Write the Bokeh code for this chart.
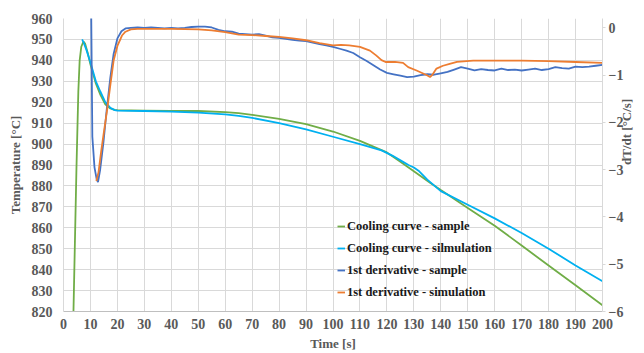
import math
from bokeh.plotting import figure
from bokeh.models import Range1d, LinearAxis, FixedTicker, Legend, LegendItem
from bokeh.embed import file_html
from bokeh.resources import INLINE

# Cooling curve - sample (time [s], temperature [°C])
cs_t = [3.7, 4.8, 5.5, 6.0, 6.6, 7.4, 8.0, 9.0, 10, 12, 13.7, 15.5, 17.4, 19, 20, 30, 40, 50, 60, 65, 70, 80, 90, 100, 110, 120, 125, 130, 136, 140, 150, 160, 170, 180, 190, 200]
cs_T = [820, 888, 925, 940, 946.5, 949, 948, 943.5, 938, 929, 923.5, 919, 917, 916.3, 916.2, 916, 915.8, 915.8, 915.3, 914.8, 914, 912, 909.5, 906, 901.5, 896, 891.5, 887, 881.5, 878, 869.5, 861, 851.5, 842, 832.5, 823]

# Cooling curve - simulation
cm_t = [6.9, 7.5, 8.5, 10, 12, 13.7, 15.5, 17.4, 19, 20, 30, 40, 50, 60, 65, 70, 80, 90, 100, 110, 118, 122, 126, 128, 130, 132, 135, 140, 150, 160, 170, 180, 190, 200]
cm_T = [950, 948.5, 945, 939, 930, 925, 920, 917.3, 916.2, 916, 915.8, 915.5, 915, 914.2, 913.5, 912.5, 910, 907, 903.5, 900, 897, 894.5, 891.5, 890, 888.8, 887, 883, 877.5, 871, 864.5, 857.5, 850, 842, 834.5]

# 1st derivative - sample (dT/dt [°C/s])
ds_t = [10.0, 10.3, 10.7, 11.5, 12.3, 12.8, 13.6, 14.8, 16.0, 17.4, 18.6, 20.0, 21.5, 23.0, 25, 27.5, 30, 32.5, 35, 37.5, 40, 42.5, 45, 47.5, 50, 52.5, 55, 57.5, 60, 62.5, 65, 67.5, 70, 72.5, 75, 77.5, 80, 82.5, 85, 87.5, 90, 92.5, 95, 97.5, 100, 102.5, 105, 107.5, 110, 112.5, 115, 117.5, 120, 122.5, 125, 127.5, 130, 132.5, 135, 137.5, 140, 142.5, 145, 147.5, 150, 152.5, 155, 157.5, 160, 162.5, 165, 167.5, 170, 172.5, 175, 177.5, 180, 182.5, 185, 187.5, 190, 192.5, 195, 197.5, 200]
ds_v = [3.0, 0.2, -2.3, -2.95, -3.2, -3.26, -3.0, -2.43, -1.75, -1.04, -0.55, -0.22, -0.07, -0.01, 0.0, 0.01, 0.0, 0.01, 0.0, -0.01, 0.0, -0.01, 0.0, 0.02, 0.03, 0.03, 0.01, -0.04, -0.07, -0.08, -0.12, -0.13, -0.14, -0.13, -0.16, -0.2, -0.21, -0.23, -0.25, -0.27, -0.28, -0.31, -0.34, -0.37, -0.4, -0.44, -0.48, -0.53, -0.62, -0.7, -0.79, -0.88, -0.95, -0.98, -1.01, -1.04, -1.03, -1.0, -0.98, -0.99, -0.96, -0.93, -0.88, -0.83, -0.86, -0.9, -0.87, -0.89, -0.9, -0.86, -0.89, -0.88, -0.9, -0.88, -0.86, -0.89, -0.87, -0.83, -0.85, -0.86, -0.82, -0.83, -0.82, -0.8, -0.78]

# 1st derivative - simulation
dm_t = [12.2, 13.0, 14.0, 15.0, 16.2, 17.4, 18.6, 20.0, 21.7, 23.0, 25.0, 27.5, 30, 40, 50, 55, 60, 65, 70, 75, 80, 85, 90, 95, 100, 103, 106, 110, 113.7, 116, 118, 119.5, 123, 126, 127.9, 131, 134.9, 136, 137, 138.4, 140.8, 143.3, 146, 152, 160, 170, 180, 190, 200]
dm_v = [-3.24, -3.05, -2.6, -2.2, -1.73, -1.2, -0.69, -0.38, -0.16, -0.08, -0.03, -0.02, -0.02, -0.02, -0.03, -0.05, -0.09, -0.14, -0.15, -0.17, -0.19, -0.22, -0.26, -0.32, -0.37, -0.36, -0.37, -0.4, -0.48, -0.58, -0.68, -0.72, -0.72, -0.74, -0.83, -0.9, -1.0, -1.04, -0.98, -0.86, -0.8, -0.76, -0.72, -0.69, -0.69, -0.69, -0.7, -0.72, -0.74]

x_ticks = list(range(0, 201, 10))
y_ticks = list(range(820, 961, 10))
y2_ticks = [-6, -5, -4, -3, -2, -1, 0]

FONT = "Liberation Serif"
GRAY = "#595959"
GRID = "#d9d9d9"

p = figure(width=644, height=353, output_backend="svg", toolbar_location=None,
           x_range=Range1d(0, 200), y_range=Range1d(820, 960),
           min_border_left=63, min_border_right=41, min_border_top=18, min_border_bottom=40)
p.outline_line_color = None
p.extra_y_ranges = {"d": Range1d(-6, 0.2)}

xa = p.xaxis[0]
ya = p.yaxis[0]

ax2 = LinearAxis(y_range_name="d", ticker=FixedTicker(ticks=y2_ticks), axis_label="dT/dt [°C/s]")
try:
    ax2.axis_label_orientation = math.pi / 2
except AttributeError:
    pass
p.add_layout(ax2, "right")

for ax in (xa, ya, ax2):
    ax.major_label_text_font = FONT
    ax.major_label_text_font_style = "bold"
    ax.major_label_text_font_size = "14px"
    ax.major_label_text_color = GRAY
    ax.axis_label_text_font = FONT
    ax.axis_label_text_font_style = "bold"
    ax.axis_label_text_font_size = "13px"
    ax.axis_label_text_color = GRAY
    ax.minor_tick_line_color = None
    ax.major_tick_in = 0

for ax in (xa, ya):
    ax.major_tick_line_color = None
    ax.major_tick_out = 0

xa.ticker = FixedTicker(ticks=x_ticks)
ya.ticker = FixedTicker(ticks=y_ticks)
xa.axis_label = "Time [s]"
ya.axis_label = "Temperature [°C]"
xa.axis_line_color = "#bfbfbf"
ya.axis_line_color = GRID
xa.major_label_standoff = 7
xa.axis_label_standoff = 4
ya.major_label_standoff = 11
ya.axis_label_standoff = 6

ax2.axis_line_color = GRID
ax2.major_tick_line_color = GRID
ax2.major_tick_out = 3
ax2.major_label_standoff = 3
ax2.axis_label_standoff = 0
ax2.axis_label_text_baseline = "middle"

p.xgrid.ticker = FixedTicker(ticks=x_ticks)
p.ygrid.ticker = FixedTicker(ticks=y_ticks)
p.xgrid.grid_line_color = GRID
p.ygrid.grid_line_color = GRID

r1 = p.line(cs_t, cs_T, line_color="#70AD47", line_width=1.8)
r2 = p.line(cm_t, cm_T, line_color="#00B0F0", line_width=1.8)
r3 = p.line(ds_t, ds_v, line_color="#4472C4", line_width=1.8, y_range_name="d")
r4 = p.line(dm_t, dm_v, line_color="#ED7D31", line_width=1.8, y_range_name="d")

legend = Legend(items=[
    LegendItem(label="Cooling curve - sample", renderers=[r1]),
    LegendItem(label="Cooling curve - silmulation", renderers=[r2]),
    LegendItem(label="1st derivative - sample", renderers=[r3]),
    LegendItem(label="1st derivative - simulation", renderers=[r4]),
], location=(274, 9))
legend.label_text_font = FONT
legend.label_text_font_style = "bold"
legend.label_text_font_size = "12.5px"
legend.label_text_color = "#1a1a1a"
legend.glyph_width = 8
legend.glyph_height = 20
legend.label_height = 20
legend.label_standoff = 2
legend.spacing = 2
legend.padding = 0
legend.margin = 0
legend.border_line_color = None
legend.background_fill_alpha = 0
p.add_layout(legend, "center")

open("out.html", "w").write(file_html(p, INLINE))
